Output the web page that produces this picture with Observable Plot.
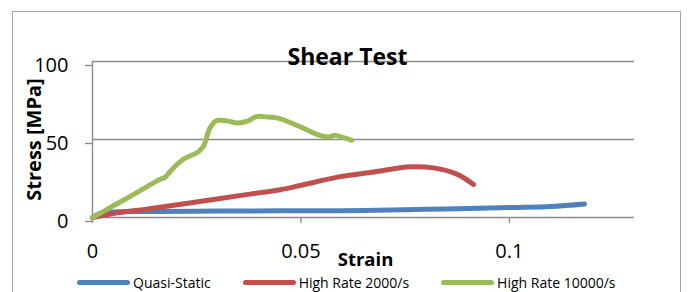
<!DOCTYPE html>
<html>
<head>
<meta charset="utf-8">
<script src="https://cdn.jsdelivr.net/npm/d3@7"></script>
<script src="https://cdn.jsdelivr.net/npm/@observablehq/plot@0.6"></script>
<style>
  html, body { margin: 0; padding: 0; background: #fff; overflow: hidden; }
  #wrap { position: relative; width: 688px; height: 292px; font-family: "Open Sans", Lato, sans-serif; }
  #border { position: absolute; left: 12px; top: 11px; width: 669px; height: 320px; border: 1.5px solid #a6a6a6; box-sizing: border-box; }
  #chart { position: absolute; left: 0; top: 0; }
  #legend { position: absolute; left: 77px; top: 275px; display: flex; gap: 32px; font-size: 14px; line-height: 15px; color: #000; }
  .item { display: flex; align-items: center; }
  .sw { width: 53px; height: 5px; border-radius: 3px; margin-right: 3px; }
</style>
</head>
<body>
<div id="wrap">
  <div id="border"></div>
  <div id="chart"></div>
  <div id="legend"></div>
</div>
<script>
// ---- Data ----
const seriesNames = ["Quasi-Static", "High Rate 2000/s", "High Rate 10000/s"];
const seriesColors = ["#4F81BD", "#C0504D", "#9BBB59"];

const quasiStrain = [0, 0.002, 0.005, 0.015, 0.03, 0.045, 0.06, 0.075, 0.085, 0.1, 0.11, 0.118];
const quasiStress = [0, 2.8, 3.6, 3.9, 4.1, 4.3, 4.4, 5.0, 5.5, 6.4, 7.0, 8.6];

const rate2000Strain = [0, 0.005, 0.0137, 0.0257, 0.0377, 0.045, 0.0498, 0.0594, 0.0674, 0.0762, 0.0818, 0.0874, 0.0914];
const rate2000Stress = [0, 2.6, 5.6, 10.3, 15.0, 17.8, 20.5, 26.2, 29.2, 32.5, 31.8, 27.8, 21.1];

const rate10000Strain = [0, 0.005, 0.01, 0.0161, 0.0175, 0.0185, 0.0217, 0.0253, 0.0267, 0.0281, 0.0297, 0.0321, 0.0349, 0.0373, 0.0393, 0.0417, 0.0445, 0.0474, 0.0506, 0.0538, 0.0566, 0.0582, 0.0602, 0.0622];
const rate10000Stress = [0, 7.5, 15.0, 24.3, 26.0, 29.2, 37.2, 42.0, 46.0, 57.0, 62.0, 62.0, 60.5, 62.0, 64.7, 64.5, 63.7, 60.9, 57.2, 53.3, 51.6, 52.7, 51.2, 49.5];

const xTicks = [0, 0.05, 0.1];
const xTickLabels = ["0", "0.05", "0.1"];
const yTicks = [0, 50, 100];
const yTickLabels = ["0", "50", "100"];

const titleText = "Shear Test";
const xLabel = "Strain";
const yLabel = "Stress [MPa]";

// ---- Build table ----
const rows = [];
[[quasiStrain, quasiStress], [rate2000Strain, rate2000Stress], [rate10000Strain, rate10000Stress]]
  .forEach(([xs, ys], i) => xs.forEach((x, j) => rows.push({series: seriesNames[i], strain: x, stress: ys[j]})));

const gridColor = "#8c8c8c";

const plot = Plot.plot({
  width: 688,
  height: 272,
  marginLeft: 92,
  marginRight: 54,
  marginTop: 61,
  marginBottom: 55,
  style: {fontFamily: "'Open Sans', Lato, sans-serif", fontSize: "20px", color: "#000", background: "transparent", overflow: "visible"},
  x: {domain: [0, 0.13]},
  y: {domain: [0, 100]},
  color: {domain: seriesNames, range: seriesColors},
  marks: [
    Plot.ruleY(yTicks, {stroke: gridColor, strokeWidth: 1.4}),
    Plot.ruleX([0], {stroke: gridColor, strokeWidth: 1.4}),
    Plot.axisY({ticks: yTicks, tickFormat: (d) => yTickLabels[yTicks.indexOf(d)], tickSize: 7, tickPadding: 17, stroke: gridColor, strokeWidth: 1.4, fill: "#000", dy: 4, label: null, fontSize: 20}),
    Plot.axisX({ticks: xTicks, tickFormat: (d) => xTickLabels[xTicks.indexOf(d)], tickSize: 6, tickPadding: 20, stroke: gridColor, strokeWidth: 1.4, fill: "#000", label: null, fontSize: 20}),
    Plot.line(rows, {x: "strain", y: "stress", z: "series", stroke: "series", strokeWidth: 5, strokeLinecap: "round", strokeLinejoin: "round", curve: "catmull-rom"}),
    Plot.text([titleText], {frameAnchor: "top-left", dx: 255, dy: -4, textAnchor: "middle", lineAnchor: "middle", text: (d) => d, fontSize: 23, fontWeight: "bold", fill: "#000"}),
    Plot.text([xLabel], {frameAnchor: "bottom-left", dx: 273, dy: 43, textAnchor: "middle", lineAnchor: "middle", text: (d) => d, fontSize: 18.5, fontWeight: "bold", fill: "#000"}),
    Plot.text([yLabel], {frameAnchor: "left", dx: -58, rotate: -90, textAnchor: "middle", lineAnchor: "middle", text: (d) => d, fontSize: 20, fontWeight: "bold", fill: "#000"})
  ]
});
document.getElementById("chart").appendChild(plot);

// ---- Legend ----
const legend = document.getElementById("legend");
seriesNames.forEach((name, i) => {
  const item = document.createElement("div");
  item.className = "item";
  const sw = document.createElement("span");
  sw.className = "sw";
  sw.style.background = seriesColors[i];
  const label = document.createElement("span");
  label.textContent = name;
  item.appendChild(sw);
  item.appendChild(label);
  legend.appendChild(item);
});
</script>
</body>
</html>
